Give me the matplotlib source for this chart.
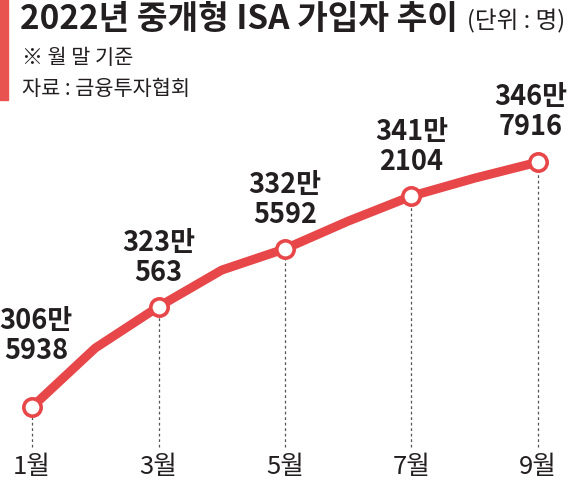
import matplotlib
matplotlib.use("Agg")
import matplotlib.pyplot as plt
from matplotlib.patches import Rectangle

plt.rcParams['font.family'] = ['Noto Sans CJK KR', 'DejaVu Sans']

# Data
months = [1, 2, 3, 4, 5, 6, 7, 8, 9]
subscribers = [3065938, 3162700, 3230563, 3290700, 3325592, 3371100, 3412104, 3441650, 3467916]
labeled_months = [1, 3, 5, 7, 9]
labeled_values = [3065938, 3230563, 3325592, 3412104, 3467916]
value_labels = ["306만\n5938", "323만\n563", "332만\n5592", "341만\n2104", "346만\n7916"]
tick_labels = ["1월", "3월", "5월", "7월", "9월"]

title = "2022년 중개형 ISA 가입자 추이"
unit = "(단위 : 명)"
note = "※ 월 말 기준"
source = "자료 : 금융투자협회"

RED = "#E8474A"
INK = "#231F20"

fig = plt.figure(figsize=(5.70, 4.88), dpi=100)
ax = fig.add_axes([0, 0, 1, 1])
ax.set_xlim(0.494, 9.506)
ax.set_ylim(2933000, 3734000)
ax.axis('off')

# dashed guides
ax.vlines(labeled_months, 3000300, labeled_values, colors="#555555",
          linestyles=(0, (2.2, 2.2)), linewidth=0.9, zorder=1)

# line
ax.plot(months, subscribers, color=RED, linewidth=6.5, solid_capstyle='round',
        solid_joinstyle='round', zorder=2)
ax.plot(labeled_months, labeled_values, linestyle='none', marker='o',
        markersize=12.5, markerfacecolor='white', markeredgecolor=RED,
        markeredgewidth=2.6, zorder=3)

# value labels
offsets = [(3, 51), (0, 35), (0, 35), (0, 35.5), (-5, 36)]
for m, v, lab, off in zip(labeled_months, labeled_values, value_labels, offsets):
    ax.annotate(lab, (m, v), xytext=off, textcoords='offset points',
                ha='center', va='center', fontsize=19.5, fontweight='bold',
                color=INK, linespacing=1.07, zorder=4)

# month labels
for m, t in zip(labeled_months, tick_labels):
    ax.text(m, 0.043, t, transform=ax.get_xaxis_transform(), ha='center',
            va='center', fontsize=18.5, color=INK)

# header
fig.patches.append(Rectangle((0, 1 - 100 / 488), 8 / 570, 100 / 488,
                             transform=fig.transFigure, color="#E8524F", zorder=0))
fig.text(20 / 570, 1 - 19 / 488, title, fontsize=24, fontweight='bold',
         color=INK, ha='left', va='center')
fig.text(565 / 570, 1 - 21 / 488, unit, fontsize=17, color=INK, ha='right', va='center')
fig.text(22 / 570, 1 - 58 / 488, note, fontsize=15, color=INK, ha='left', va='center')
fig.text(22 / 570, 1 - 89 / 488, source, fontsize=15, color=INK, ha='left', va='center')

fig.savefig("out.png", dpi=100)
